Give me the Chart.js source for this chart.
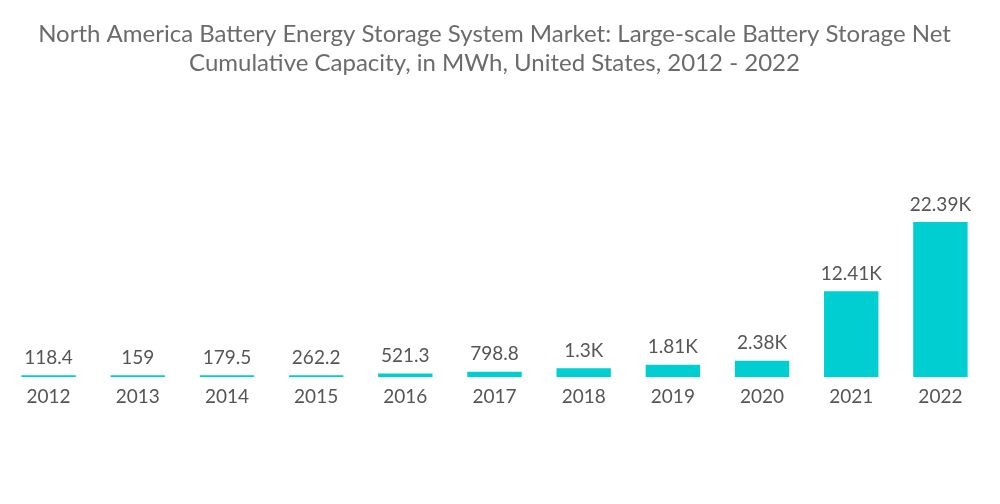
<!DOCTYPE html>
<html>
<head>
<meta charset="utf-8">
<script src="https://cdn.jsdelivr.net/npm/chart.js@4/dist/chart.umd.min.js"></script>
<style>
    html, body { margin: 0; padding: 0; background: #fff; }
    #wrap { width: 1000px; height: 504px; }
</style>
</head>
<body>
<div id="wrap"><canvas id="capacityChart"></canvas></div>
<script>
const years = ['2012', '2013', '2014', '2015', '2016', '2017', '2018', '2019', '2020', '2021', '2022'];
const capacity = [118.4, 159, 179.5, 262.2, 521.3, 798.8, 1300, 1810, 2380, 12410, 22390];
const titleLines = [
    'North America Battery Energy Storage System Market: Large-scale Battery Storage Net',
    'Cumulative Capacity, in MWh, United States, 2012 - 2022'
];

function formatValue(v) {
    if (v >= 1000) {
        return parseFloat((v / 1000).toFixed(2)) + 'K';
    }
    return String(v);
}

// draw value labels above bars
const valueLabels = {
    id: 'valueLabels',
    afterDatasetsDraw(chart) {
        const ctx = chart.ctx;
        const meta = chart.getDatasetMeta(0);
        ctx.save();
        ctx.font = '19px Lato, sans-serif';
        ctx.fillStyle = '#555555';
        ctx.textAlign = 'center';
        ctx.textBaseline = 'bottom';
        meta.data.forEach((bar, i) => {
            ctx.fillText(formatValue(capacity[i]), bar.x, bar.y - 8);
        });
        ctx.restore();
    }
};

const ctx = document.getElementById('capacityChart').getContext('2d');
const chart = new Chart(ctx, {
    type: 'bar',
    data: {
        labels: years,
        datasets: [{
            label: 'Capacity',
            data: capacity,
            backgroundColor: '#00ced1',
            borderWidth: 0,
            categoryPercentage: 1,
            barPercentage: 0.61,
            minBarLength: 2
        }]
    },
    options: {
        responsive: true,
        maintainAspectRatio: false,
        animation: false,
        layout: {
            padding: { left: 4, right: 15, top: 20, bottom: 96 }
        },
        plugins: {
            legend: { display: false },
            tooltip: { enabled: false },
            title: {
                display: true,
                text: titleLines,
                color: '#6b6b6b',
                font: { family: 'Lato, sans-serif', size: 24, weight: 'normal' },
                padding: { top: 0, bottom: 0 },
                lineHeight: 1.25
            }
        },
        scales: {
            x: {
                grid: { display: false, drawBorder: false },
                border: { display: false },
                ticks: {
                    color: '#555555',
                    font: { family: 'Lato, sans-serif', size: 19 },
                    padding: 0
                }
            },
            y: {
                display: false,
                min: 0,
                max: 43200
            }
        }
    },
    plugins: [valueLabels]
});
</script>
</body>
</html>
